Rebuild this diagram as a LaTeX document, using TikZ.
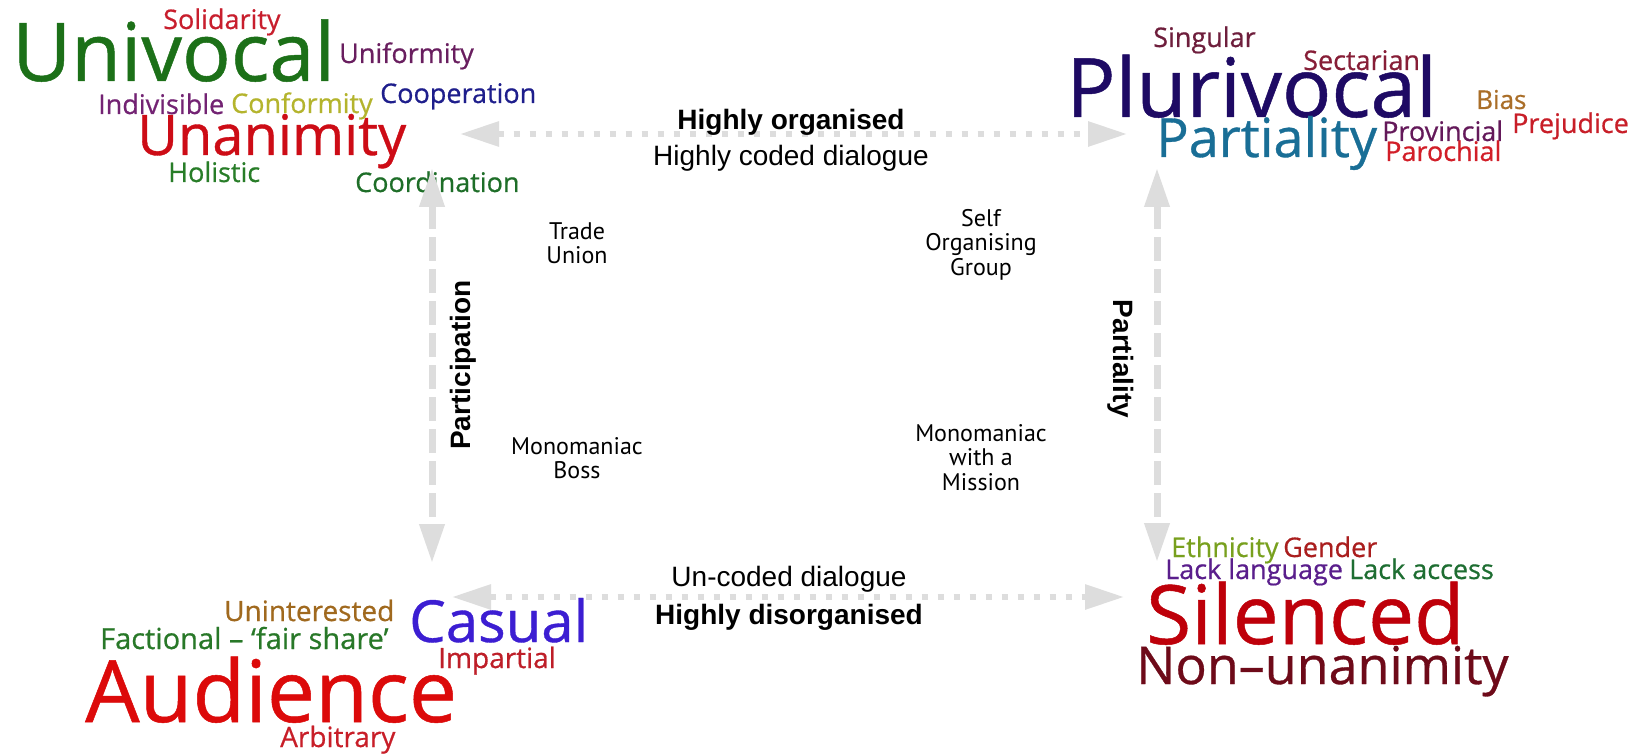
\documentclass[tikz,border=0pt]{standalone}
\usepackage{fontspec}
\usepackage{tikz}
\usetikzlibrary{arrows.meta}

\newfontfamily\cloudfont{Open Sans}[FakeBold=0.6]
\newfontfamily\axisfont{Liberation Sans}
\newfontfamily\cellfont{PT Sans}
\newcommand{\wsize}[1]{\fontsize{#1}{#1}\selectfont}

% word colours
\definecolor{arrowgrey}{RGB}{221,221,221}
\definecolor{cSolidarity}{RGB}{200,30,45}
\definecolor{cUnivocal}{RGB}{28,112,24}
\definecolor{cUniformity}{RGB}{105,30,95}
\definecolor{cIndivisible}{RGB}{115,35,115}
\definecolor{cConformity}{RGB}{180,180,45}
\definecolor{cCooperation}{RGB}{30,30,140}
\definecolor{cUnanimity}{RGB}{205,12,22}
\definecolor{cHolistic}{RGB}{40,125,40}
\definecolor{cCoordination}{RGB}{30,110,40}
\definecolor{cSingular}{RGB}{110,30,60}
\definecolor{cSectarian}{RGB}{135,30,55}
\definecolor{cPlurivocal}{RGB}{30,10,100}
\definecolor{cBias}{RGB}{170,110,40}
\definecolor{cPrejudice}{RGB}{200,30,40}
\definecolor{cPartiality}{RGB}{25,110,150}
\definecolor{cProvincial}{RGB}{100,25,90}
\definecolor{cParochial}{RGB}{210,30,40}
\definecolor{cUninterested}{RGB}{160,105,30}
\definecolor{cFactional}{RGB}{40,120,40}
\definecolor{cCasual}{RGB}{60,30,210}
\definecolor{cImpartial}{RGB}{190,30,40}
\definecolor{cAudience}{RGB}{220,10,10}
\definecolor{cArbitrary}{RGB}{200,30,40}
\definecolor{cEthnicity}{RGB}{120,160,30}
\definecolor{cGender}{RGB}{170,30,30}
\definecolor{cLanguage}{RGB}{90,30,140}
\definecolor{cAccess}{RGB}{30,110,50}
\definecolor{cSilenced}{RGB}{190,0,10}
\definecolor{cNonunanimity}{RGB}{110,10,25}

\begin{document}
\begin{tikzpicture}[x=1pt, y=-1pt,
  word/.style={inner sep=0pt, anchor=base west, font=\cloudfont\wsize{#1}},
  cell/.style={inner sep=0pt, anchor=north, align=center,
    font=\cellfont\fontsize{24}{24.5}\selectfont},
  axislabel/.style={inner sep=0pt, font=\axisfont\bfseries\wsize{28}},
  axisnote/.style={inner sep=0pt, font=\axisfont\wsize{28}},
  harrow/.style={draw=arrowgrey, line width=6pt, dash pattern=on 6pt off 10pt,
    {Triangle[length=39pt,width=24pt]}-{Triangle[length=39pt,width=24pt]}},
  varrow/.style={draw=arrowgrey, line width=7pt, dash pattern=on 24pt off 8pt,
    {Triangle[length=39pt,width=24pt]}-{Triangle[length=39pt,width=24pt]}}]

  \fill[white] (0,0) rectangle (1643,754);
  \useasboundingbox (0,0) rectangle (1643,754);

  % univocal corner
  \node[word=27, text=cSolidarity]   (solidarity)   at (163,29)  {Solidarity};
  \node[word=81, text=cUnivocal]     (univocal)     at (12,81)   {Univocal};
  \node[word=27, text=cUniformity]   (uniformity)   at (339,63)  {Uniformity};
  \node[word=27, text=cIndivisible]  (indivisible)  at (98,114)  {Indivisible};
  \node[word=27, text=cConformity]   (conformity)   at (231,113) {Conformity};
  \node[word=27, text=cCooperation]  (cooperation)  at (380,103) {Cooperation};
  \node[word=56, text=cUnanimity]    (unanimity)    at (137,155) {Unanimity};
  \node[word=27, text=cHolistic]     (holistic)     at (168,182) {Holistic};
  \node[word=27, text=cCoordination] (coordination) at (355,192) {Coordination};

  % plurivocal corner
  \node[word=27, text=cSingular]    (singular)   at (1153,47)  {Singular};
  \node[word=27, text=cSectarian]   (sectarian)  at (1303,70)  {Sectarian};
  \node[word=82, text=cPlurivocal]  (plurivocal) at (1066,117) {Plurivocal};
  \node[word=26, text=cBias]        (bias)       at (1476,109) {Bias};
  \node[word=27, text=cPrejudice]   (prejudice)  at (1512,133) {Prejudice};
  \node[word=54, text=cPartiality]  (partiality) at (1156,157) {Partiality};
  \node[word=27, text=cProvincial]  (provincial) at (1382,141) {Provincial};
  \node[word=27, text=cParochial]   (parochial)  at (1385,161) {Parochial};

  % audience corner
  \node[word=28, text=cUninterested] (uninterested) at (224,621) {Uninterested};
  \node[word=29, text=cFactional]    (factional)    at (100,649) {Factional – ‘fair share’};
  \node[word=58, text=cCasual]       (casual)       at (409,642) {Casual};
  \node[word=28, text=cImpartial]    (impartial)    at (438,668) {Impartial};
  \node[word=86, text=cAudience]     (audience)     at (85,722)  {Audience};
  \node[word=28, text=cArbitrary]    (arbitrary)    at (280,747) {Arbitrary};

  % silenced corner
  \node[word=27, text=cEthnicity]     (ethnicity) at (1171,557) {Ethnicity};
  \node[word=27, text=cGender]        (gender)    at (1283,557) {Gender};
  \node[word=27, text=cLanguage]      (language)  at (1165,579) {Lack language};
  \node[word=27, text=cAccess]        (access)    at (1349,579) {Lack access};
  \node[word=82, text=cSilenced]      (silenced)  at (1146,644) {Silenced};
  \node[word=52, text=cNonunanimity]  (nonunan)   at (1136,684) {Non–unanimity};

  % group types
  \node[cell] (union)   at (577,222) {Trade\\Union};
  \node[cell] (selforg) at (981,209) {Self\\Organising\\Group};
  \node[cell] (boss)    at (577,437) {Monomaniac\\Boss};
  \node[cell] (mission) at (981,424) {Monomaniac\\with a\\Mission};

  % axes
  \coordinate (topL) at (460,134);
  \coordinate (topR) at (1127,134);
  \coordinate (botL) at (452,597);
  \coordinate (botR) at (1124,597);
  \coordinate (lftT) at (432,168);
  \coordinate (lftB) at (432,563);
  \coordinate (rgtT) at (1157,168);
  \coordinate (rgtB) at (1157,562);

  \draw[harrow] (topL) -- (topR);
  \draw[harrow] (botL) -- (botR);
  \draw[varrow] (lftT) -- (lftB);
  \draw[varrow] (rgtT) -- (rgtB);

  \node[axislabel, anchor=base] (organised)    at (791,130) {Highly organised};
  \node[axisnote, anchor=base]  (coded)        at (791,166) {Highly coded dialogue};
  \node[axisnote, anchor=base]  (uncoded)      at (789,586) {Un-coded dialogue};
  \node[axislabel, anchor=base] (disorganised) at (789,624) {Highly disorganised};
  \node[axislabel, rotate=90]   (participation) at (463,365) {Participation};
  \node[axislabel, rotate=-90]  (partial)       at (1121,359) {Partiality};
\end{tikzpicture}
\end{document}
